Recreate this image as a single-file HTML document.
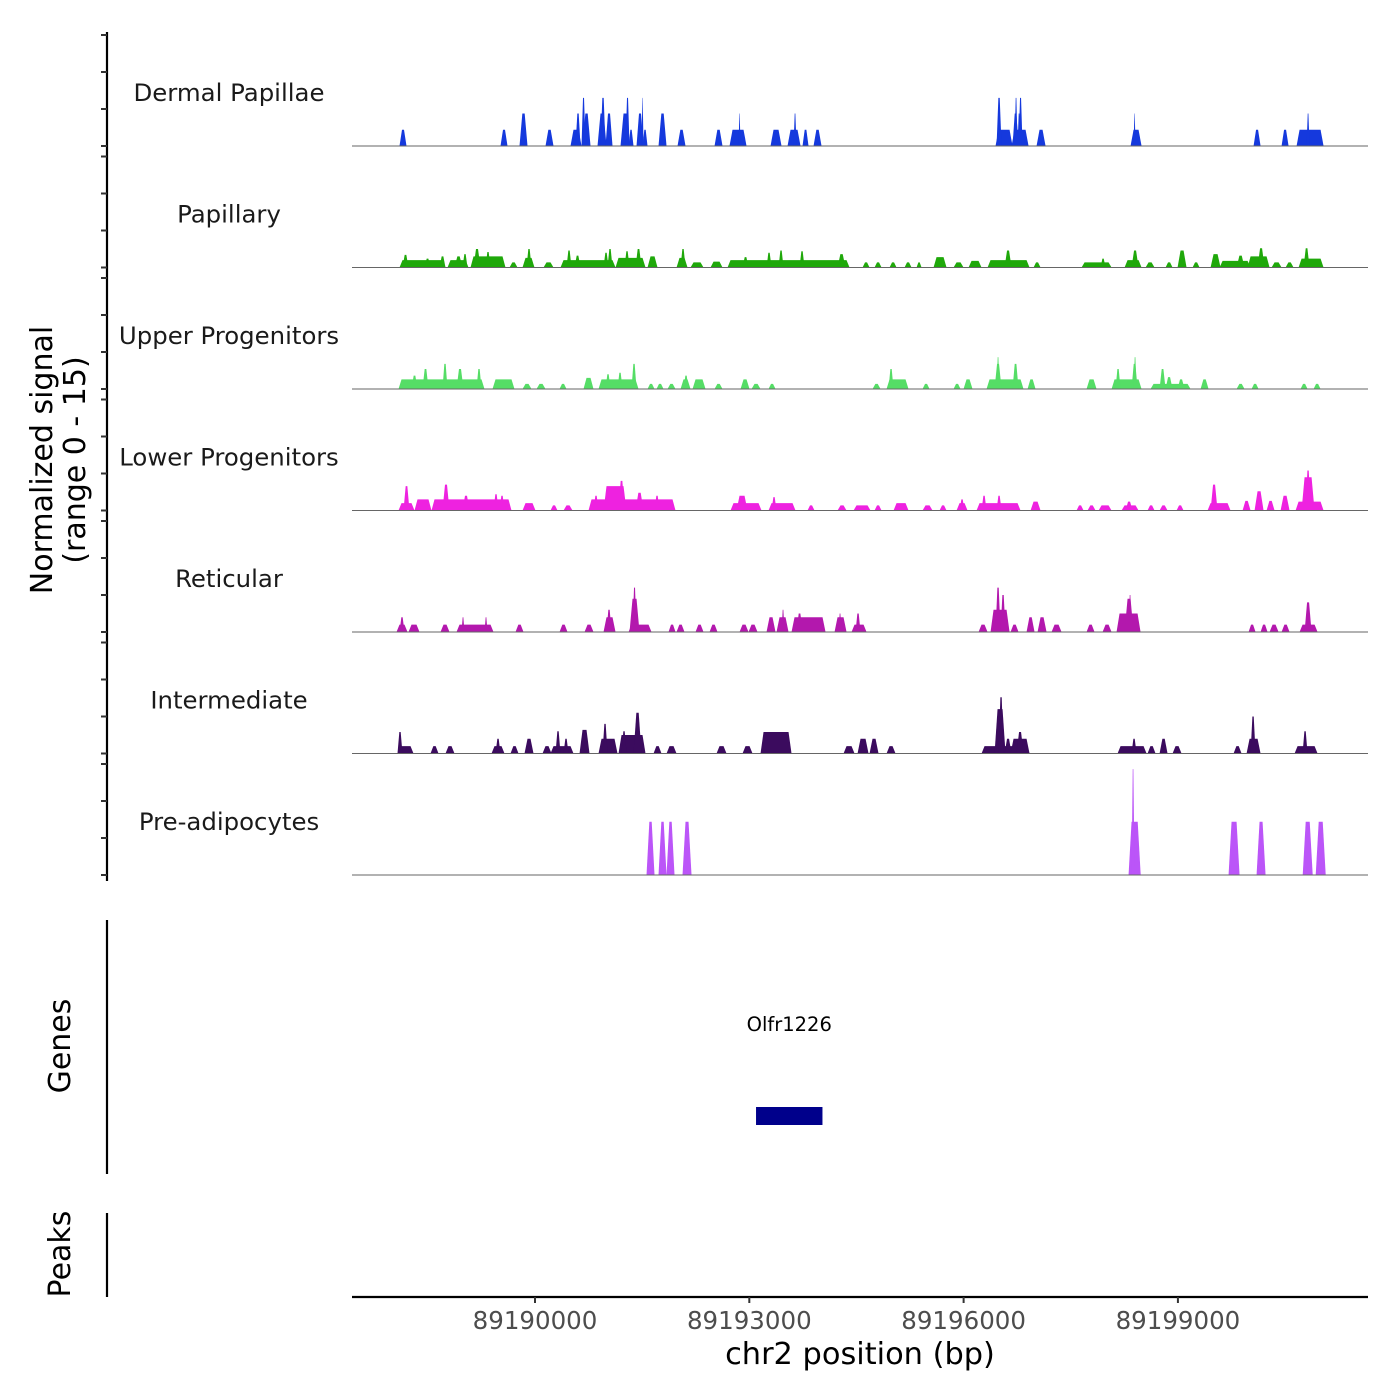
<!DOCTYPE html>
<html><head><meta charset="utf-8"><style>
html,body{margin:0;padding:0;background:#fff;}
svg{display:block;font-family:"DejaVu Sans","Liberation Sans",sans-serif;}
</style></head><body>
<svg id="chart" width="1400" height="1400" viewBox="0 0 1400 1400" xmlns="http://www.w3.org/2000/svg">
<g id="tracks"></g>
<g id="axes"></g>
</svg>
<script>
// region offsets are bp relative to 89187000
const REGION_BASE = 89187000;
const REGION_START = 410;
const REGION_END = 14633;
const trackNames = ["Dermal Papillae","Papillary","Upper Progenitors","Lower Progenitors","Reticular","Intermediate","Pre-adipocytes"];
const trackColors = ["#1539dd","#1fa80a","#55dd66","#ee22e0","#b318ad","#3b0b5e","#bb55f8"];
// each track: [start, end, signal]
const dermal = [[1082,1166,2.2],[2496,2580,2.2],[2762,2860,4.4],[3126,3224,2.2],[3476,3616,2.2],[3546,3602,4.4],[3630,3672,6.5],[3644,3742,4.4],[3854,3966,4.4],[3896,3952,6.5],[3966,4050,4.4],[4176,4288,4.4],[4246,4288,6.5],[4288,4344,2.2],[4400,4484,4.4],[4470,4484,6.5],[4484,4540,2.2],[4708,4806,4.4],[4974,5072,2.2],[5492,5590,2.2],[5702,5926,2.2],[5828,5842,4.4],[6276,6416,2.2],[6514,6682,2.2],[6598,6626,4.4],[6724,6794,2.2],[6878,6976,2.2],[9426,9650,2.2],[9440,9496,6.5],[9664,9734,4.4],[9692,9720,6.5],[9734,9762,4.4],[9748,9790,6.5],[9650,9874,2.2],[10000,10112,2.2],[11316,11456,2.2],[11358,11372,4.4],[13038,13122,2.2],[13430,13514,2.2],[13640,14004,2.2],[13780,13808,4.4]];
const papillary = [[1082,1712,1],[1124,1194,1.7],[1432,1502,1.2],[1642,1712,1.5],[1754,2034,1],[1852,1950,1.5],[1964,2020,1.8],[2076,2552,1.5],[2118,2202,2.5],[2286,2342,2.1],[2622,2720,0.7],[2804,2958,1.3],[2860,2916,2.5],[3098,3224,0.7],[3336,4092,1],[3420,3476,2.3],[3532,3602,1.6],[3938,3994,2],[3994,4050,2.5],[4106,4512,1.3],[4232,4288,2.2],[4386,4456,2.5],[4554,4680,1.5],[4960,5100,1.3],[5016,5072,2.5],[5156,5324,0.7],[5436,5590,0.8],[5674,7368,1],[5884,5954,1.4],[6220,6276,2],[6388,6444,2.3],[6682,6738,2.2],[7214,7312,1.8],[7564,7648,0.7],[7732,7816,0.7],[7942,8026,0.7],[8152,8236,0.7],[8320,8376,0.7],[8558,8726,1.4],[8838,8964,0.7],[9048,9216,0.9],[9314,9888,1],[9552,9636,2.3],[9958,10042,0.7],[10630,11036,0.7],[10896,10952,1.2],[11232,11456,1],[11330,11414,2.3],[11526,11638,0.7],[11806,11890,0.7],[11974,12086,2.3],[12184,12268,0.7],[12436,12562,1.8],[12562,12982,0.9],[12800,12898,1.6],[12954,13248,1.5],[13094,13178,2.6],[13290,13416,0.7],[13486,13584,0.7],[13668,14004,1.2],[13738,13808,2.6]];
const upper = [[1068,2258,1.3],[1250,1320,1.8],[1404,1474,2.7],[1684,1740,3.4],[1880,1964,2.7],[2160,2216,2.7],[2384,2678,1.3],[2804,2916,0.7],[3000,3112,0.7],[3322,3406,0.7],[3658,3784,1.5],[3868,4414,1.3],[3966,4022,2],[4134,4190,2.2],[4330,4386,3.4],[4554,4638,0.7],[4680,4764,0.7],[4834,4932,0.7],[5016,5142,1.3],[5058,5114,1.8],[5184,5352,1.3],[5492,5590,0.7],[5856,5968,1.3],[6010,6122,0.7],[6248,6332,0.7],[7704,7802,0.7],[7900,8194,1.3],[7928,7984,2.7],[8404,8488,0.7],[8838,8922,0.7],[8978,9090,1.3],[9300,9804,1.3],[9412,9496,3.4],[9440,9468,4.3],[9664,9734,3.4],[9874,9972,1.3],[10700,10826,1.3],[11050,11456,1.3],[11106,11162,2.7],[11330,11400,3.4],[11358,11386,4.3],[11596,12142,0.7],[11722,11792,2.7],[11806,11890,1.6],[11974,12058,1.3],[12296,12394,1.3],[12800,12898,0.7],[13010,13094,0.7],[13696,13780,0.7],[13878,13962,0.7]];
const lower = [[1068,1278,1],[1138,1208,3.3],[1292,1516,1.5],[1530,2636,1.5],[1684,1768,3.5],[1964,2048,2],[2398,2454,2.2],[2482,2538,2],[2804,2972,1],[3196,3280,0.7],[3378,3490,0.7],[3728,4932,1.5],[3798,3854,2],[3938,4246,3.3],[4148,4218,4],[4386,4484,2.4],[4652,4708,2],[5716,6136,1],[5800,5940,2],[6248,6612,1],[6290,6346,1.8],[6794,6878,0.7],[7214,7326,0.7],[7438,7662,0.7],[7732,7816,0.7],[7998,8194,1],[8404,8530,0.7],[8642,8726,0.7],[8880,9020,1],[8922,8978,1.5],[9160,9762,1],[9230,9286,2],[9440,9496,2],[9916,10042,1.2],[10560,10644,0.7],[10714,10812,0.7],[10868,11036,0.7],[11190,11414,0.7],[11246,11330,1.2],[11554,11638,0.7],[11722,11820,0.7],[11960,12044,0.7],[12394,12702,1],[12436,12520,3.5],[12884,12982,1.3],[13052,13164,2.6],[13220,13318,1.3],[13416,13528,2],[13626,14004,1.2],[13710,13878,4.5],[13766,13822,5.4]];
const reticular = [[1040,1180,1],[1082,1138,2],[1208,1348,1],[1656,1768,1],[1880,2384,1],[1950,1978,2],[2272,2300,2],[2706,2804,1],[3322,3420,1],[3672,3784,1],[3938,4092,2],[3980,4036,3],[4288,4596,1],[4302,4428,4.5],[4344,4386,6],[4848,4932,1],[4960,5058,1],[5226,5324,1],[5422,5520,1],[5842,5954,1],[5968,6080,1],[6220,6332,2],[6360,6514,2],[6430,6458,3],[6570,7032,2],[6640,6710,2.5],[7172,7326,2],[7228,7256,2.5],[7410,7606,1],[7466,7522,2.5],[9188,9300,1],[9356,9608,3],[9426,9482,6],[9496,9552,5],[9636,9734,1],[9860,9958,2],[10014,10126,2],[10210,10336,1],[10700,10798,1],[10924,11036,1],[11120,11442,2.5],[11232,11344,4.5],[11288,11316,5],[12968,13052,1],[13136,13220,1],[13262,13374,1],[13430,13528,1],[13682,13920,1],[13752,13836,4]];
const intermediate = [[1054,1264,1],[1054,1110,2.9],[1516,1614,1],[1726,1838,1],[2370,2538,1],[2426,2482,2],[2636,2734,1],[2832,2944,2],[3084,3196,1],[3196,3504,1],[3266,3322,3],[3378,3434,2],[3602,3728,3.2],[3868,4120,2],[3924,3980,4],[4148,4512,2.5],[4190,4246,3],[4358,4456,5.5],[4638,4736,1],[4820,4946,1],[5520,5646,1],[5884,6010,1],[6136,6556,2.9],[7298,7438,1],[7494,7634,2],[7662,7774,2],[7900,8012,1],[9230,9888,1],[9412,9552,6],[9468,9524,7.6],[9552,9636,2],[9636,9888,2],[9720,9804,2.9],[11134,11526,1],[11330,11386,2],[11554,11652,1],[11722,11820,2],[11904,12016,1],[12758,12856,1],[12940,13122,2],[12996,13052,5],[13612,13920,1],[13724,13780,3]];
const preadipocytes = [[4540,4638,7.2],[4708,4806,7.2],[4820,4918,7.2],[5044,5156,7.2],[11288,11444,7.2],[11330,11358,14.3],[12688,12828,7.2],[13080,13192,7.2],[13726,13852,7.2],[13908,14034,7.2]];
const trackData = [dermal,papillary,upper,lower,reticular,intermediate,preadipocytes];
const xTickValues = [89190000,89193000,89196000,89199000];
const xTickLabels = ["89190000","89193000","89196000","89199000"];
const geneName = "Olfr1226";
const geneStart = 89193066;
const geneEnd = 89193996;

const NS = "http://www.w3.org/2000/svg";
const PX0 = 352, PX1 = 1368;
const xScale = off => PX0 + (off - REGION_START) / (REGION_END - REGION_START) * (PX1 - PX0);
const xScaleBp = bp => xScale(bp - REGION_BASE);
const TRACK_TOP = 25, TRACK_H = 121.5, PX_PER_UNIT = 7.4;
const baseY = i => TRACK_TOP + (i + 1) * TRACK_H - 0.5;
const yScale = (i, v) => baseY(i) - v * PX_PER_UNIT;
function mk(tag, attrs, parent){const e=document.createElementNS(NS,tag);for(const k in attrs)e.setAttribute(k,attrs[k]);parent.appendChild(e);return e;}

const tg = document.getElementById('tracks');
trackData.forEach((data, i) => {
  const g = mk('g', {}, tg);
  
  
  const lab = mk('text', {x:229, y:baseY(i)-45, 'text-anchor':'middle', 'font-size':24.4, fill:'#1a1a1a'}, g);
  lab.textContent = trackNames[i];
  
  
  const base = baseY(i);
  data.forEach(d => {
    const x1 = xScale(d[0]), x2 = xScale(d[1]), yt = yScale(i, d[2]);
    const s = Math.min(2.5, (x2 - x1) / 3);
    const p = mk('polygon', {points:`${x1-0.5},${base} ${x1+s},${yt} ${x2-s},${yt} ${x2+0.5},${base}`, fill:trackColors[i]}, g);
    
    
  });
  const bl = mk('line', {x1:PX0, x2:PX1, y1:base, y2:base, stroke:'#666', 'stroke-width':1}, g);
  
  
});

const ag = document.getElementById('axes');
const ya = mk('line', {x1:107, x2:107, y1:32, y2:881, stroke:'#000', 'stroke-width':2.2}, ag);


for (let i = 0; i < 7; i++) {
  [0,5,10,15].forEach(v => {
    const y = yScale(i, v);
    const t = mk('line', {x1:101, x2:107, y1:y, y2:y, stroke:'#333', 'stroke-width':2}, ag);
    
    
  });
}
const yt1 = mk('text', {transform:'translate(52,460) rotate(-90)', 'text-anchor':'middle', 'font-size':30, fill:'#000'}, ag);
yt1.textContent = 'Normalized signal';


const yt2 = mk('text', {transform:'translate(85,460) rotate(-90)', 'text-anchor':'middle', 'font-size':30, fill:'#000'}, ag);
yt2.textContent = '(range 0 - 15)';



const ga = mk('line', {x1:107, x2:107, y1:920, y2:1174, stroke:'#000', 'stroke-width':2.2}, ag);


const gt = mk('text', {transform:'translate(70,1046) rotate(-90)', 'text-anchor':'middle', 'font-size':30, fill:'#000'}, ag);
gt.textContent = 'Genes';


const gr = mk('rect', {x:xScaleBp(geneStart), y:1107, width:xScaleBp(geneEnd)-xScaleBp(geneStart), height:18, fill:'#00008b'}, ag);


const gl = mk('text', {x:(xScaleBp(geneStart)+xScaleBp(geneEnd))/2, y:1031, 'text-anchor':'middle', 'font-size':19.5, fill:'#000'}, ag);
gl.textContent = geneName;



const pa = mk('line', {x1:107, x2:107, y1:1213, y2:1297, stroke:'#000', 'stroke-width':2.2}, ag);


const pt = mk('text', {transform:'translate(70,1254) rotate(-90)', 'text-anchor':'middle', 'font-size':30, fill:'#000'}, ag);
pt.textContent = 'Peaks';



const xa = mk('line', {x1:PX0, x2:PX1, y1:1297, y2:1297, stroke:'#000', 'stroke-width':2.2}, ag);


xTickValues.forEach((v, k) => {
  const x = xScaleBp(v) - 2;
  const t = mk('line', {x1:x, x2:x, y1:1297, y2:1303, stroke:'#333', 'stroke-width':2}, ag);
  
  
  const l = mk('text', {x:x, y:1329, 'text-anchor':'middle', 'font-size':24.5, fill:'#4d4d4d'}, ag);
  l.textContent = xTickLabels[k];
  
  
});
const xt = mk('text', {x:860, y:1364, 'text-anchor':'middle', 'font-size':30.4, fill:'#000'}, ag);
xt.textContent = 'chr2 position (bp)';


</script>
</body></html>
